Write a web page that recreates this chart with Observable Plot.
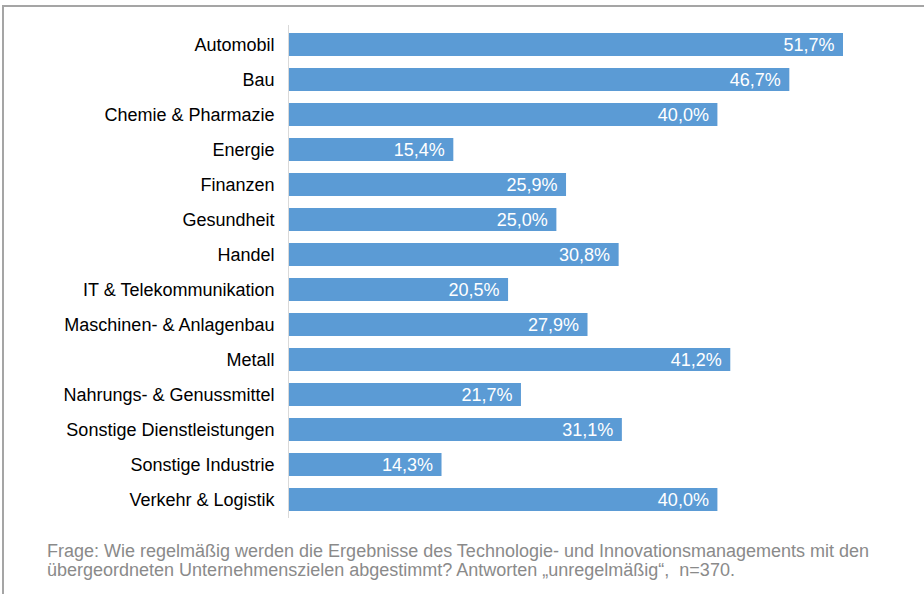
<!DOCTYPE html>
<html>
<head>
<meta charset="utf-8">
<script src="https://cdn.jsdelivr.net/npm/d3@7"></script>
<script src="https://cdn.jsdelivr.net/npm/@observablehq/plot@0.6"></script>
<style>
  html, body { margin: 0; padding: 0; background: #fff; }
  #wrap { position: relative; width: 924px; height: 594px; overflow: hidden; font-family: "Liberation Sans", Arial, sans-serif; }
  #chart svg { display: block; background: transparent; }
  #frameTop { position: absolute; left: 2px; top: 5px; width: 922px; height: 2px; background: #a5a5a5; }
  #frameLeft { position: absolute; left: 2px; top: 5px; width: 2px; height: 589px; background: #a5a5a5; }
  #caption { position: absolute; left: 47px; top: 542px; font-size: 18px; line-height: 18.7px; color: #8a8a8a; white-space: pre; }
</style>
</head>
<body>
<div id="wrap">
  <div id="chart"></div>
  <div id="frameTop"></div>
  <div id="frameLeft"></div>
  <div id="caption"></div>
</div>
<script>
const categories = [
  "Automobil",
  "Bau",
  "Chemie & Pharmazie",
  "Energie",
  "Finanzen",
  "Gesundheit",
  "Handel",
  "IT & Telekommunikation",
  "Maschinen- & Anlagenbau",
  "Metall",
  "Nahrungs- & Genussmittel",
  "Sonstige Dienstleistungen",
  "Sonstige Industrie",
  "Verkehr & Logistik"
];
const values = [51.7, 46.7, 40.0, 15.4, 25.9, 25.0, 30.8, 20.5, 27.9, 41.2, 21.7, 31.1, 14.3, 40.0];
const captionLines = [
  "Frage: Wie regelmäßig werden die Ergebnisse des Technologie- und Innovationsmanagements mit den",
  "übergeordneten Unternehmenszielen abgestimmt? Antworten „unregelmäßig“,  n=370."
];

document.getElementById("caption").textContent = captionLines.join("\n");

const data = categories.map((c, i) => ({category: c, value: values[i]}));
const fmt = v => v.toFixed(1).replace(".", ",") + "%";

const chart = Plot.plot({
  width: 924,
  height: 530,
  marginLeft: 288,
  marginRight: 81,
  marginTop: 25,
  marginBottom: 12,
  style: {fontFamily: "'Liberation Sans', Arial, sans-serif", fontSize: "18px", color: "#000", background: "transparent"},
  x: {domain: [0, 51.7], axis: null},
  y: {domain: categories, paddingInner: 0.35, paddingOuter: 0.175, label: null, tickSize: 0, tickPadding: 14},
  marks: [
    Plot.barX(data, {y: "category", x: "value", fill: "#5b9bd5"}),
    Plot.ruleX([0], {stroke: "#d9d9d9", strokeWidth: 1}),
    Plot.text(data, {y: "category", x: "value", text: d => fmt(d.value), textAnchor: "end", dx: -9, fill: "#fff", fontSize: 18}),
    Plot.axisY({tickSize: 0, tickPadding: 14, label: null, fontSize: 18})
  ]
});
document.getElementById("chart").appendChild(chart);
</script>
</body>
</html>
